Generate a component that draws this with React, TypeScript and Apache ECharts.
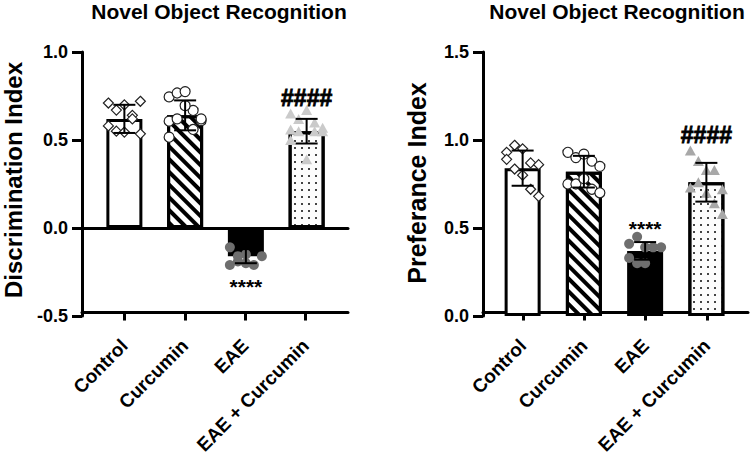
import React, { useEffect, useRef } from "react";
import * as echarts from "echarts";

const CATEGORIES = ["Control", "Curcumin", "EAE", "EAE + Curcumin"];
const CAT_INDEX = [0, 1, 2, 3];

// Discrimination index (left panel)
const DI_MEAN = [0.62, 0.64, -0.16, 0.55];
const DI_SD = [0.08, 0.085, 0.04, 0.07];
const DI_CONTROL = [0.71, 0.67, 0.7, 0.64, 0.72, 0.58, 0.55, 0.545, 0.62, 0.535];
const DI_CURCUMIN = [0.745, 0.767, 0.775, 0.668, 0.61, 0.607, 0.62, 0.695, 0.56, 0.62, 0.516];
const DI_EAE = [-0.11, -0.19, -0.15, -0.21, -0.16, -0.21, -0.16, -0.2];
const DI_EAE_CUR = [0.56, 0.62, 0.67, 0.6, 0.55, 0.65, 0.55, 0.39, 0.55, 0.57, 0.5];
const DI_SIG_TEXT = ["", "", "****", "####"];
const DI_SIG_Y = [null, null, -0.335, 0.74];

// Preference index (right panel)
const PI_MEAN = [0.84, 0.82, 0.37, 0.76];
const PI_SD = [0.1, 0.09, 0.05, 0.11];
const PI_CONTROL = [0.93, 0.97, 0.95, 0.87, 0.86, 0.89, 0.835, 0.8, 0.72, 0.68];
const PI_CURCUMIN = [0.93, 0.9, 0.92, 0.88, 0.85, 0.75, 0.75, 0.78, 0.72, 0.7];
const PI_EAE = [0.41, 0.45, 0.39, 0.39, 0.39, 0.33, 0.3, 0.3];
const PI_EAE_CUR = [0.94, 0.88, 0.83, 0.83, 0.72, 0.73, 0.76, 0.7, 0.64, 0.58];
const PI_SIG_TEXT = ["", "", "****", "####"];
const PI_SIG_Y = [null, null, 0.5, 1.03];

const TITLE = "Novel Object Recognition";
const Y_NAME_LEFT = "Discrimination Index";
const Y_NAME_RIGHT = "Preferance Index";

const FONT = '"Liberation Sans", Arial, Helvetica, sans-serif';
const JITTER = [-16, -8, 0, 8, 16];

function barData(means: number[]) {
  return means.map((m, i) => {
    if (i === 0) return { value: m, itemStyle: { color: "#ffffff" } };
    if (i === 1)
      return {
        value: m,
        itemStyle: {
          color: "#ffffff",
          decal: {
            symbol: "rect",
            symbolSize: 1,
            color: "#000000",
            dashArrayX: [1, 0],
            dashArrayY: [4, 4.5],
            rotation: Math.PI / 4,
          },
        },
      };
    if (i === 2) return { value: m, itemStyle: { color: "#000000" } };
    return {
      value: m,
      itemStyle: {
        color: "#fcfcfc",
        decal: {
          symbol: "rect",
          symbolSize: 1,
          color: "#444444",
          dashArrayX: [1.4, 4.6],
          dashArrayY: [1.4, 4.6],
          rotation: 0,
        },
      },
    };
  });
}

function pointsSeries(
  xi: number,
  yi: number,
  cat: number,
  values: number[],
  symbol: string,
  fill: string,
  stroke: string
) {
  return {
    type: "scatter",
    xAxisIndex: xi,
    yAxisIndex: yi,
    symbol,
    symbolSize: symbol === "triangle" ? [11, 10] : 10,
    z: 4,
    itemStyle: { color: fill, borderColor: stroke, borderWidth: fill === "#ffffff" ? 1.2 : 0, opacity: 1 },
    data: values.map((v, i) => ({ value: [cat, v], symbolOffset: [JITTER[i % JITTER.length], 0] })),
  };
}

function errorSeries(xi: number, yi: number, means: number[], sds: number[]) {
  return {
    type: "custom",
    xAxisIndex: xi,
    yAxisIndex: yi,
    z: 6,
    clip: false,
    encode: { x: 0, y: 1 },
    data: means.map((m, i) => [i, m, sds[i]]),
    renderItem: (params: any, api: any) => {
      const c = api.value(0);
      const m = api.value(1);
      const s = api.value(2);
      const top = api.coord([c, m + s]);
      const bot = api.coord([c, m - s]);
      const hw = 11;
      const st = { stroke: "#000", lineWidth: 2 };
      return {
        type: "group",
        children: [
          { type: "line", shape: { x1: top[0], y1: top[1], x2: bot[0], y2: bot[1] }, style: st },
          { type: "line", shape: { x1: top[0] - hw, y1: top[1], x2: top[0] + hw, y2: top[1] }, style: st },
          { type: "line", shape: { x1: bot[0] - hw, y1: bot[1], x2: bot[0] + hw, y2: bot[1] }, style: st },
        ],
      };
    },
  };
}

function sigSeries(xi: number, yi: number, texts: string[], ys: (number | null)[]) {
  const items: { i: number; y: number; t: string }[] = [];
  texts.forEach((t, i) => {
    const y = ys[i];
    if (t && y !== null) items.push({ i, y, t });
  });
  return {
    type: "custom",
    xAxisIndex: xi,
    yAxisIndex: yi,
    z: 7,
    clip: false,
    encode: { x: 0, y: 1 },
    data: items.map((d) => [d.i, d.y]),
    renderItem: (params: any, api: any) => {
      const it = items[params.dataIndex];
      const p = api.coord([api.value(0), api.value(1)]);
      const isHash = it.t.startsWith("#");
      return {
        type: "text",
        x: p[0],
        y: p[1],
        style: {
          text: it.t,
          fill: "#000",
          fontSize: isHash ? 23 : 21,
          fontWeight: 900,
          fontFamily: FONT,
          align: "center",
          verticalAlign: "middle",
          stroke: isHash ? "#000" : undefined,
          lineWidth: isHash ? 0.8 : 0,
        },
      };
    },
  };
}

function mainY(gridIndex: number, min: number, max: number, offset: number) {
  return {
    gridIndex,
    type: "value",
    min,
    max,
    interval: 0.5,
    offset,
    axisLine: { show: true, lineStyle: { color: "#000", width: 3 } },
    axisTick: { show: true, length: 10, lineStyle: { color: "#000", width: 3 } },
    axisLabel: {
      fontSize: 18,
      fontWeight: "bold",
      fontFamily: FONT,
      color: "#000",
      margin: 14,
      formatter: (v: number) => v.toFixed(1),
    },
    splitLine: { show: false },
  };
}

// hidden category axis that positions the bars and points
function mainX(gridIndex: number) {
  return {
    gridIndex,
    type: "category",
    data: CATEGORIES,
    show: false,
    axisLine: { show: false, onZero: false },
  };
}

// visible bottom axis: line, category ticks and rotated labels
function bottomX(gridIndex: number, min: number, max: number) {
  return {
    gridIndex,
    type: "value",
    min,
    max,
    axisLine: { show: true, onZero: false, lineStyle: { color: "#000", width: 3 } },
    axisTick: {
      show: true,
      customValues: CAT_INDEX,
      length: 8,
      lineStyle: { color: "#000", width: 3 },
    },
    axisLabel: {
      show: true,
      customValues: CAT_INDEX,
      rotate: 45,
      fontSize: 19,
      fontWeight: "bold",
      fontFamily: FONT,
      color: "#000",
      margin: 30,
      showMinLabel: true,
      showMaxLabel: true,
      formatter: (v: number) => CATEGORIES[Math.round(v)] ?? "",
    },
    splitLine: { show: false },
  };
}

function zeroX(gridIndex: number) {
  return {
    gridIndex,
    type: "value",
    min: 0,
    max: 1,
    axisLine: { show: true, onZero: true, lineStyle: { color: "#000", width: 3 } },
    axisTick: { show: false },
    axisLabel: { show: false },
    splitLine: { show: false },
  };
}

function frameY(gridIndex: number, min: number, max: number) {
  return {
    gridIndex,
    type: "value",
    min,
    max,
    axisLine: { show: false },
    axisTick: { show: false },
    axisLabel: { show: false },
    splitLine: { show: false },
  };
}

function textEl(text: string, x: number, y: number, size: number, rotation = 0) {
  return {
    type: "text",
    x,
    y,
    rotation,
    style: {
      text,
      fill: "#000",
      fontSize: size,
      fontWeight: "bold",
      fontFamily: FONT,
      align: "center",
      verticalAlign: "middle",
    },
  };
}

export default function App() {
  const ref = useRef<HTMLDivElement>(null);
  useEffect(() => {
    if (!ref.current) return;
    const chart = echarts.init(ref.current, undefined, { renderer: "svg" });
    const option: any = {
      animation: false,
      backgroundColor: "#ffffff",
      textStyle: { fontFamily: FONT },
      graphic: [
        textEl(TITLE, 219, 11, 21),
        textEl(TITLE, 617, 11, 21),
        textEl(Y_NAME_LEFT, 13, 180, 24, Math.PI / 2),
        textEl(Y_NAME_RIGHT, 417, 183, 25, Math.PI / 2),
      ],
      grid: [
        { left: 94, top: 52, width: 243, height: 264 },
        { left: 82, top: 52, width: 266, height: 264 },
        { left: 82, top: 52, width: 266, height: 264 },
        { left: 492, top: 52, width: 245, height: 264 },
        { left: 483, top: 52, width: 265, height: 264 },
      ],
      xAxis: [
        mainX(0),
        bottomX(1, -0.7, 3.7),
        zeroX(2),
        mainX(3),
        bottomX(4, -0.65, 3.67),
      ],
      yAxis: [
        mainY(0, -0.5, 1.0, 12),
        frameY(1, -0.5, 1.0),
        frameY(2, -0.5, 1.0),
        mainY(3, 0, 1.5, 9),
        frameY(4, 0, 1.5),
      ],
      series: [
        {
          type: "bar",
          xAxisIndex: 0,
          yAxisIndex: 0,
          barWidth: 36,
          z: 2,
          itemStyle: { borderColor: "#000", borderWidth: 3 },
          data: barData(DI_MEAN),
        },
        pointsSeries(0, 0, 0, DI_CONTROL, "diamond", "#ffffff", "#222222"),
        pointsSeries(0, 0, 1, DI_CURCUMIN, "circle", "#ffffff", "#222222"),
        pointsSeries(0, 0, 2, DI_EAE, "circle", "#6e6e6e", "#6e6e6e"),
        pointsSeries(0, 0, 3, DI_EAE_CUR, "triangle", "#cacaca", "#cacaca"),
        errorSeries(0, 0, DI_MEAN, DI_SD),
        sigSeries(0, 0, DI_SIG_TEXT, DI_SIG_Y),
        {
          type: "bar",
          xAxisIndex: 3,
          yAxisIndex: 3,
          barWidth: 36,
          z: 2,
          itemStyle: { borderColor: "#000", borderWidth: 3 },
          data: barData(PI_MEAN),
        },
        pointsSeries(3, 3, 0, PI_CONTROL, "diamond", "#ffffff", "#222222"),
        pointsSeries(3, 3, 1, PI_CURCUMIN, "circle", "#ffffff", "#222222"),
        pointsSeries(3, 3, 2, PI_EAE, "circle", "#6e6e6e", "#6e6e6e"),
        pointsSeries(3, 3, 3, PI_EAE_CUR, "triangle", "#a8a8a8", "#a8a8a8"),
        errorSeries(3, 3, PI_MEAN, PI_SD),
        sigSeries(3, 3, PI_SIG_TEXT, PI_SIG_Y),
      ],
    };
    chart.setOption(option);
    return () => chart.dispose();
  }, []);
  return (
    <div
      ref={ref}
      style={{ position: "fixed", left: 0, top: 0, width: 751, height: 457, background: "#fff" }}
    />
  );
}
